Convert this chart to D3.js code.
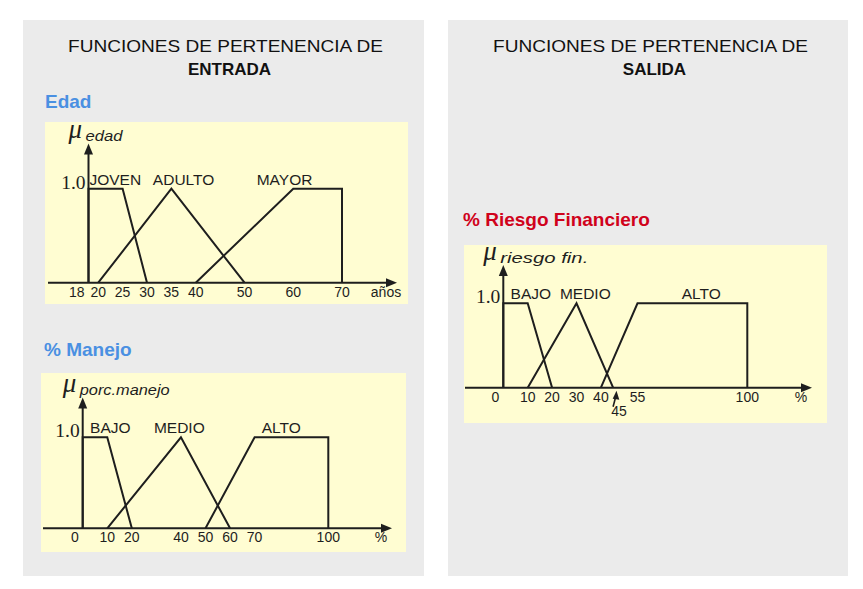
<!DOCTYPE html>
<html><head><meta charset="utf-8">
<script src="https://cdn.jsdelivr.net/npm/d3@7"></script>
<style>html,body{margin:0;padding:0;background:#fff;}</style>
</head><body>
<svg id="c" width="863" height="589"></svg>
<script>
// ---------- DATA ----------
const edadTicks = [18, 20, 25, 30, 35, 40, 50, 60, 70];
const edadSetNames = ["JOVEN", "ADULTO", "MAYOR"];
const edadJoven = [[18, 0], [18, 1], [25, 1], [30, 0]];
const edadAdulto = [[20, 0], [35, 1], [50, 0]];
const edadMayor = [[40, 0], [60, 1], [70, 1], [70, 0]];
const edadLabelAt = [18.2, 31.2, 52.5];

const manejoTicks = [0, 10, 20, 40, 50, 60, 70, 100];
const manejoSetNames = ["BAJO", "MEDIO", "ALTO"];
const manejoBajo = [[0, 0], [0, 1], [10, 1], [20, 0]];
const manejoMedio = [[10, 0], [40, 1], [60, 0]];
const manejoAlto = [[50, 0], [70, 1], [100, 1], [100, 0]];
const manejoLabelAt = [3.0, 29.0, 72.9];

const riesgoTicks = [0, 10, 20, 30, 40, 55, 100];
const riesgoCallout = 45;
const riesgoSetNames = ["BAJO", "MEDIO", "ALTO"];
const riesgoBajo = [[0, 0], [0, 1], [10, 1], [20, 0]];
const riesgoMedio = [[10, 0], [30, 1], [45, 0]];
const riesgoAlto = [[40, 0], [55, 1], [100, 1], [100, 0]];
const riesgoLabelAt = [3.0, 23.2, 73.1];

// ---------- DRAW ----------
const svg = d3.select("#c");
const SANS = "'Liberation Sans', Arial, Helvetica, sans-serif";
const SERIF = "'Liberation Serif', 'Times New Roman', serif";
const INK = "#1e1e1e";

// panels
svg.append("rect").attr("x", 23).attr("y", 20).attr("width", 401).attr("height", 556).attr("fill", "#ebebeb");
svg.append("rect").attr("x", 448).attr("y", 20).attr("width", 400).attr("height", 556).attr("fill", "#ebebeb");

function heading(cx, word) {
  svg.append("text").attr("x", cx).attr("y", 52).attr("text-anchor", "middle")
    .attr("font-family", SANS).attr("font-size", 17).attr("fill", "#111")
    .attr("textLength", 315).attr("lengthAdjust", "spacingAndGlyphs")
    .text("FUNCIONES DE PERTENENCIA DE");
  svg.append("text").attr("x", cx + 4).attr("y", 75).attr("text-anchor", "middle")
    .attr("font-family", SANS).attr("font-size", 17).attr("font-weight", "bold").attr("fill", "#111")
    .text(word);
}
heading(225.5, "ENTRADA");
heading(650.5, "SALIDA");

function section(x, y, txt, color) {
  svg.append("text").attr("x", x).attr("y", y).attr("font-family", SANS)
    .attr("font-size", 19).attr("font-weight", "bold").attr("fill", color).text(txt);
}
section(45, 108, "Edad", "#4a90e2");
section(44, 356, "% Manejo", "#4a90e2");
section(463, 226, "% Riesgo Financiero", "#d0021b");

function arrowHead(g, x, y, dir) {
  const L = 11, W = 4.5;
  let pts;
  if (dir === "up") pts = [[x, y], [x - W, y + L], [x + W, y + L]];
  else pts = [[x, y], [x - L, y - W], [x - L, y + W]];
  g.append("path").attr("d", "M" + pts.map(p => p.join(",")).join("L") + "Z").attr("fill", INK);
}

function chart(cfg) {
  const g = svg.append("g");
  g.append("rect").attr("x", cfg.box[0]).attr("y", cfg.box[1])
    .attr("width", cfg.box[2] - cfg.box[0]).attr("height", cfg.box[3] - cfg.box[1])
    .attr("fill", "#fffdd2");
  const x = d3.scaleLinear().domain(cfg.domain).range(cfg.xr);
  const y = d3.scaleLinear().domain([0, 1]).range(cfg.yr);
  const x0 = x(cfg.domain[0]), y0 = y(0), y1 = y(1);

  // axes
  g.append("line").attr("x1", cfg.axisLeft).attr("x2", cfg.axisRight - 6).attr("y1", y0).attr("y2", y0)
    .attr("stroke", INK).attr("stroke-width", 2);
  arrowHead(g, cfg.axisRight, y0, "right");
  g.append("line").attr("x1", x0).attr("x2", x0).attr("y1", y0).attr("y2", cfg.axisTop + 6)
    .attr("stroke", INK).attr("stroke-width", 2);
  arrowHead(g, x0, cfg.axisTop, "up");

  // membership functions
  const line = d3.line().x(d => x(d[0])).y(d => y(d[1]));
  cfg.sets.forEach(s => {
    g.append("path").attr("d", line(s)).attr("fill", "none").attr("stroke", INK)
      .attr("stroke-width", 2).attr("stroke-linejoin", "miter");
  });

  // tick labels
  cfg.ticks.forEach((t, i) => {
    const isOrigin = t === cfg.domain[0];
    g.append("text").attr("x", isOrigin ? x0 - 4 : x(t)).attr("y", y0 + 14)
      .attr("text-anchor", isOrigin ? "end" : "middle")
      .attr("font-family", SANS).attr("font-size", 14).attr("fill", INK).text(t);
  });
  g.append("text").attr("x", cfg.axisRight - 11).attr("y", y0 + 14).attr("text-anchor", "middle")
    .attr("font-family", SANS).attr("font-size", 14).attr("fill", INK).text(cfg.unit);

  // 1.0
  g.append("text").attr("x", x0 - 3).attr("y", y1).attr("text-anchor", "end")
    .attr("font-family", SERIF).attr("font-size", 19.5).attr("fill", INK).text("1.0");

  // set names
  cfg.names.forEach((n, i) => {
    g.append("text").attr("x", x(cfg.labelAt[i])).attr("y", y1 - 4)
      .attr("font-family", SANS).attr("font-size", 15.5).attr("fill", INK).text(n);
  });

  // mu label
  const mb = cfg.axisTop - 5.5;
  g.append("text").attr("x", x0 - 20).attr("y", mb)
    .attr("font-family", SERIF).attr("font-style", "italic").attr("font-size", 27).attr("fill", INK).text("\u03bc");
  g.append("text").attr("x", x0 - 3).attr("y", mb + 3)
    .attr("font-family", SANS).attr("font-style", "italic").attr("font-size", 15).attr("fill", INK)
    .attr("textLength", cfg.subLen).attr("lengthAdjust", "spacingAndGlyphs").text(cfg.sub);

  if (cfg.callout !== undefined) {
    const cx = x(cfg.callout);
    g.append("line").attr("x1", cx).attr("y1", y0 + 19).attr("x2", cx + 2.6).attr("y2", y0 + 9)
      .attr("stroke", INK).attr("stroke-width", 1.6);
    const tip = [cx + 3.4, y0 + 3], a = [cx - 0.4, y0 + 11], b = [cx + 6.2, y0 + 12];
    g.append("path").attr("d", "M" + [tip, a, b].map(p => p.join(",")).join("L") + "Z").attr("fill", INK);
    g.append("text").attr("x", cx + 6).attr("y", y0 + 28).attr("text-anchor", "middle")
      .attr("font-family", SANS).attr("font-size", 14).attr("fill", INK).text(cfg.callout);
  }
}

chart({
  box: [45, 122, 408, 304], domain: [18, 70], xr: [88.5, 342], yr: [282.7, 188.7],
  axisLeft: 48, axisRight: 397, axisTop: 143.5,
  sets: [edadJoven, edadAdulto, edadMayor], names: edadSetNames, labelAt: edadLabelAt,
  ticks: edadTicks, unit: "años", sub: "edad", subLen: 37
});
chart({
  box: [41, 373, 406, 552], domain: [0, 100], xr: [82.7, 328.3], yr: [528.3, 437.3],
  axisLeft: 43, axisRight: 392, axisTop: 397.5,
  sets: [manejoBajo, manejoMedio, manejoAlto], names: manejoSetNames, labelAt: manejoLabelAt,
  ticks: manejoTicks, unit: "%", sub: "porc.manejo", subLen: 90
});
chart({
  box: [464, 245, 827, 423], domain: [0, 100], xr: [503.3, 747.3], yr: [387.7, 303.3],
  axisLeft: 465, axisRight: 812, axisTop: 265,
  sets: [riesgoBajo, riesgoMedio, riesgoAlto], names: riesgoSetNames, labelAt: riesgoLabelAt,
  ticks: riesgoTicks, unit: "%", sub: "riesgo fin.", subLen: 88, callout: riesgoCallout
});
</script>
</body></html>
